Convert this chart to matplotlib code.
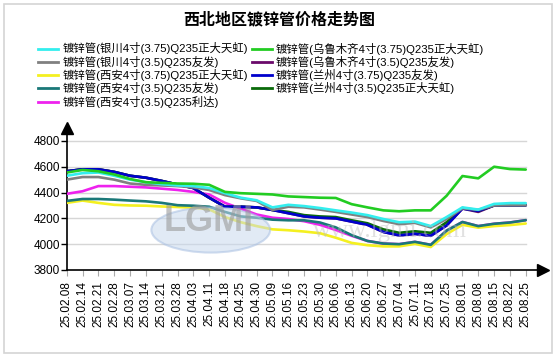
import numpy as np
import matplotlib
matplotlib.use("Agg")
import matplotlib.pyplot as plt
from matplotlib.patches import Ellipse, Rectangle
from matplotlib.lines import Line2D

plt.rcParams['font.family'] = ['Liberation Sans', 'Noto Sans CJK SC', 'DejaVu Sans']

title = "西北地区镀锌管价格走势图"
dates = ["25.02.08", "25.02.14", "25.02.21", "25.02.28", "25.03.07", "25.03.14",
         "25.03.21", "25.03.28", "25.04.03", "25.04.11", "25.04.18", "25.04.25",
         "25.04.30", "25.05.09", "25.05.16", "25.05.23", "25.05.30", "25.06.06",
         "25.06.13", "25.06.20", "25.06.27", "25.07.04", "25.07.11", "25.07.18",
         "25.07.25", "25.08.01", "25.08.08", "25.08.15", "25.08.22", "25.08.25"]

yinchuan_375_zd = [4530, 4550, 4555, 4530, 4500, 4480, 4465, 4455, 4450, 4435, 4395, 4360,
                   4340, 4285, 4305, 4295, 4280, 4262, 4245, 4225, 4195, 4170, 4175, 4140,
                   4210, 4285, 4268, 4312, 4318, 4318]
urumqi_375_zd = [4555, 4575, 4565, 4540, 4505, 4480, 4475, 4470, 4468, 4460, 4405, 4395,
                 4390, 4385, 4370, 4365, 4360, 4358, 4310, 4285, 4262, 4255, 4262, 4262,
                 4375, 4528, 4510, 4600, 4582, 4578]
yinchuan_35_yf = [4500, 4520, 4520, 4500, 4470, 4460, 4455, 4450, 4440, 4420, 4380, 4355,
                  4335, 4265, 4290, 4285, 4268, 4250, 4230, 4210, 4180, 4155, 4165, 4130,
                  4195, 4278, 4266, 4300, 4302, 4302]
urumqi_35_yf = [4565, 4580, 4580, 4560, 4530, 4515, 4490, 4462, 4435, 4360, 4290, 4290,
                4285, 4265, 4240, 4215, 4205, 4200, 4175, 4150, 4095, 4068, 4080, 4065,
                4145, 4276, 4250, 4300, 4302, 4302]
xian_375_zd = [4320, 4338, 4320, 4305, 4300, 4298, 4292, 4288, 4283, 4270, 4210, 4170,
               4140, 4115, 4108, 4098, 4085, 4050, 4010, 3992, 3983, 3983, 4002, 3978,
               4078, 4150, 4128, 4140, 4148, 4160]
lanzhou_375_yf = [4565, 4580, 4580, 4560, 4530, 4515, 4490, 4462, 4435, 4360, 4290, 4290,
                  4285, 4265, 4240, 4215, 4205, 4200, 4175, 4150, 4095, 4068, 4080, 4065,
                  4145, 4276, 4258, 4300, 4302, 4302]
xian_35_yf = [4335, 4350, 4350, 4345, 4338, 4332, 4320, 4302, 4298, 4290, 4250, 4215,
              4205, 4190, 4185, 4185, 4168, 4130, 4070, 4025, 4005, 4000, 4018, 3995,
              4105, 4172, 4140, 4158, 4168, 4186]
lanzhou_35_zd = [4565, 4580, 4580, 4560, 4530, 4515, 4490, 4462, 4435, 4360, 4290, 4290,
                 4285, 4265, 4250, 4225, 4215, 4210, 4185, 4162, 4115, 4088, 4100, 4088,
                 4170, 4280, 4258, 4300, 4302, 4302]
xian_35_ld = [4390, 4410, 4450, 4450, 4445, 4440, 4430, 4420, 4405, 4385, 4320, 4275,
              4230, 4205, 4195, 4178, 4150, 4110, 4065, 4025, 4005, 4000, 4018, 3995,
              4105, 4172, 4140, 4158, 4168, 4186]

series = [
    ("镀锌管(西安4寸(3.5)Q235利达)", xian_35_ld, "#ee22ee"),
    ("镀锌管(乌鲁木齐4寸(3.5)Q235友发)", urumqi_35_yf, "#6a0a6a"),
    ("镀锌管(兰州4寸(3.5)Q235正大天虹)", lanzhou_35_zd, "#0a6a0a"),
    ("镀锌管(兰州4寸(3.75)Q235友发)", lanzhou_375_yf, "#0000cc"),
    ("镀锌管(西安4寸(3.75)Q235正大天虹)", xian_375_zd, "#f4f020"),
    ("镀锌管(西安4寸(3.5)Q235友发)", xian_35_yf, "#1a7878"),
    ("镀锌管(银川4寸(3.5)Q235友发)", yinchuan_35_yf, "#808080"),
    ("镀锌管(银川4寸(3.75)Q235正大天虹)", yinchuan_375_zd, "#33eeee"),
    ("镀锌管(乌鲁木齐4寸(3.75)Q235正大天虹)", urumqi_375_zd, "#22cc22"),
]
legend_col1 = [("镀锌管(银川4寸(3.75)Q235正大天虹)", "#33eeee"),
               ("镀锌管(银川4寸(3.5)Q235友发)", "#808080"),
               ("镀锌管(西安4寸(3.75)Q235正大天虹)", "#f4f020"),
               ("镀锌管(西安4寸(3.5)Q235友发)", "#1a7878"),
               ("镀锌管(西安4寸(3.5)Q235利达)", "#ee22ee")]
legend_col2 = [("镀锌管(乌鲁木齐4寸(3.75)Q235正大天虹)", "#22cc22"),
               ("镀锌管(乌鲁木齐4寸(3.5)Q235友发)", "#6a0a6a"),
               ("镀锌管(兰州4寸(3.75)Q235友发)", "#0000cc"),
               ("镀锌管(兰州4寸(3.5)Q235正大天虹)", "#0a6a0a")]
yticks = [3800, 4000, 4200, 4400, 4600, 4800]

W, H = 558, 359
fig = plt.figure(figsize=(W / 100, H / 100), dpi=100)
fig.patch.set_facecolor("white")

def fx(px):
    return px / W

def fy(py):
    return 1 - py / H

# outer border
fig.add_artist(Rectangle((fx(3.5), fy(353)), fx(548), (349.5) / H, transform=fig.transFigure,
                         fill=False, edgecolor="#d4d4d4", lw=1.2))

fig.text(fx(279), fy(19), title, ha="center", va="center", fontsize=11.5, fontweight="bold",
         family=['Noto Sans CJK SC', 'DejaVu Sans'])

rows = [48.5, 61.8, 75, 88.3, 101.5]
for (lab, col), yy in zip(legend_col1, rows):
    fig.add_artist(Line2D([fx(38), fx(58)], [fy(yy), fy(yy)], color=col, lw=2, transform=fig.transFigure))
    fig.text(fx(63), fy(yy), lab, ha="left", va="center", fontsize=8.2)
for (lab, col), yy in zip(legend_col2, rows):
    fig.add_artist(Line2D([fx(252), fx(272)], [fy(yy), fy(yy)], color=col, lw=2, transform=fig.transFigure))
    fig.text(fx(276), fy(yy), lab, ha="left", va="center", fontsize=8.2)

# axes: left 66.7px, right 543px, top 128px (4900), bottom 270px (3800)
ax = fig.add_axes([fx(66.7), fy(270), (543 - 66.7) / W, (270 - 128) / H])
ax.set_xlim(0, 30.09)
ax.set_ylim(3800, 4900)
ax.set_facecolor("none")

x = np.arange(len(dates))

for yv in yticks[1:]:
    ax.plot([0, len(dates) - 1], [yv, yv], color="#d6d6d6", lw=1, zorder=1)

for lab, vals, col in series:
    ax.plot(x, vals, color=col, lw=1.9, solid_joinstyle="round", solid_capstyle="round", zorder=3)

# watermark (drawn over the lines, semi-transparent)
ax.add_patch(Ellipse((9.1, 4110), 7.5, 350, facecolor="#c9d9ee", edgecolor="#a9c0e2",
                     lw=1.5, alpha=0.55, zorder=4))
ax.text(9.0, 4172, "LGMI", fontsize=26, fontweight="bold", color="#9a9a9a", alpha=0.6,
        ha="center", va="center", zorder=4.1)
ax.text(20.4, 4102, "www.lgmi.com", fontsize=18, color="#bdbdbd", alpha=0.45,
        ha="center", va="center", family="Liberation Serif", zorder=4.1)

for s in ["top", "right"]:
    ax.spines[s].set_visible(False)
ax.spines["left"].set_linewidth(1.2)
ax.spines["bottom"].set_linewidth(1.2)

ax.set_yticks(yticks)
ax.set_yticklabels([str(v) for v in yticks], fontsize=8.5)
ax.tick_params(axis="y", length=4, width=1, pad=1, direction="out")
ax.set_xticks(x)
ax.set_xticklabels(dates, rotation=90, fontsize=8.5)
ax.tick_params(axis="x", length=4, width=0.8, color="#aaaaaa", pad=4, direction="out")

# axis arrows
ax.plot([0], [1], marker="^", ms=9, color="black", transform=ax.transAxes, clip_on=False, zorder=5)
ax.plot([1], [0], marker=">", ms=9, color="black", transform=ax.transAxes, clip_on=False, zorder=5)

fig.savefig("out.png", dpi=100)
